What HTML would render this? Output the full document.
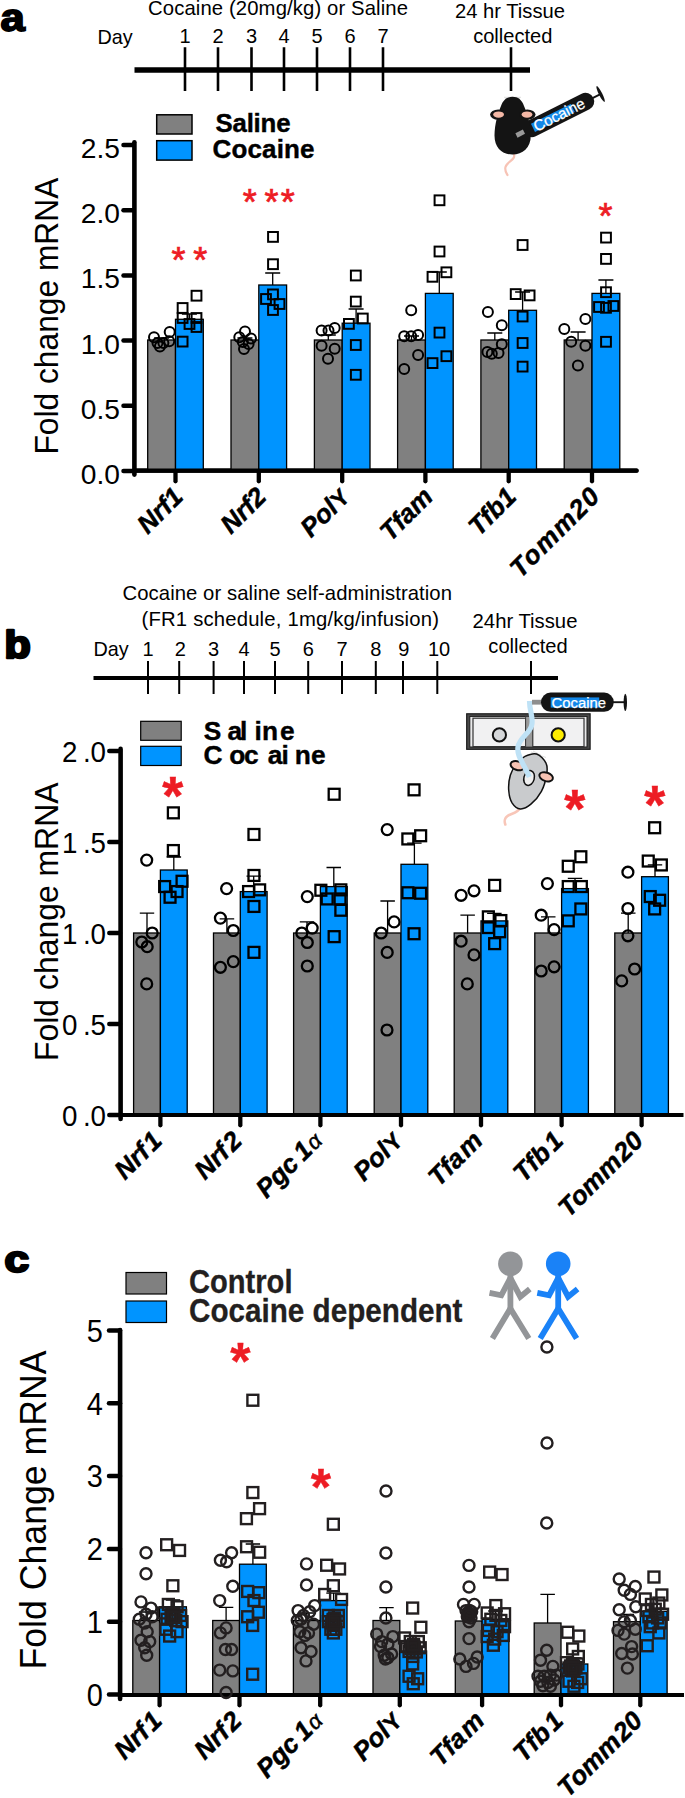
<!DOCTYPE html>
<html><head><meta charset="utf-8"><title>Figure</title>
<style>
html,body{margin:0;padding:0;background:#fff;}
svg{display:block;}
text{font-family:"Liberation Sans",sans-serif;}
</style></head><body>
<svg width="685" height="1798" viewBox="0 0 685 1798">
<rect width="685" height="1798" fill="#fff"/>
<g id="panel-a">
<text transform="translate(0.6,31) scale(1.12,1)" font-size="39" font-weight="bold" stroke="#000" stroke-width="1.8">a</text>
<text x="148" y="14.8" font-size="20.3" text-anchor="start" font-weight="normal" font-style="normal" fill="#000" textLength="260" lengthAdjust="spacing" >Cocaine (20mg/kg) or Saline</text>
<text x="97.5" y="43.8" font-size="19.8" text-anchor="start" font-weight="normal" font-style="normal" fill="#000" >Day</text>
<text x="185" y="43.3" font-size="20" text-anchor="middle" font-weight="normal" font-style="normal" fill="#000" >1</text>
<text x="218" y="43.3" font-size="20" text-anchor="middle" font-weight="normal" font-style="normal" fill="#000" >2</text>
<text x="251.5" y="43.3" font-size="20" text-anchor="middle" font-weight="normal" font-style="normal" fill="#000" >3</text>
<text x="284" y="43.3" font-size="20" text-anchor="middle" font-weight="normal" font-style="normal" fill="#000" >4</text>
<text x="317" y="43.3" font-size="20" text-anchor="middle" font-weight="normal" font-style="normal" fill="#000" >5</text>
<text x="350" y="43.3" font-size="20" text-anchor="middle" font-weight="normal" font-style="normal" fill="#000" >6</text>
<text x="383" y="43.3" font-size="20" text-anchor="middle" font-weight="normal" font-style="normal" fill="#000" >7</text>
<text x="510" y="17.6" font-size="20.2" text-anchor="middle" font-weight="normal" font-style="normal" fill="#000" >24 hr Tissue</text>
<text x="512.8" y="42.6" font-size="20.1" text-anchor="middle" font-weight="normal" font-style="normal" fill="#000" >collected</text>
<path d="M134.5 70H530" stroke="#000" stroke-width="5.3"/>
<path d="M185 47.2V91M218 47.2V91M251.5 47.2V91M284 47.2V91M317 47.2V91M350 47.2V91M383 47.2V91M511 47.2V91" stroke="#000" stroke-width="2.6"/>
<g id="mouse-a">
<path d="M504 97.3L521 97.3M505 99L520 98.2" stroke="#cfcfcf" stroke-width="0.7" fill="none"/>
<path d="M513.5 153C517 160 507 161 505.5 167C504.5 171 506.5 173 507.5 175" stroke="#f7c3b5" stroke-width="2.2" fill="none" stroke-linecap="round"/>
<g transform="translate(520.2,133.6) rotate(-26.6)">
<rect x="4" y="-8.1" width="77.5" height="17.4" rx="8.7" fill="#141414"/>
<path d="M80 0.6H89.5" stroke="#141414" stroke-width="1.9"/>
<ellipse cx="89.6" cy="0.6" rx="1.7" ry="8.8" fill="#141414"/>
<rect x="14" y="-3.9" width="44.5" height="9" fill="#1287e8"/>
<text x="15.5" y="5.9" font-size="15.4" fill="#fff" stroke="#fff" stroke-width="0.25" textLength="55.5" lengthAdjust="spacingAndGlyphs">Cocaine</text>
</g>
<path d="M512.5 96.8C518 96.8 522 100 524 106C527 113 530.8 124 530.8 135.5C530.8 148 522.5 154.6 512.5 154.6C502.5 154.6 494.5 148 494.5 135.5C494.5 124 498 113 501 106C503 100 507 96.8 512.5 96.8Z" fill="#141414"/>
<ellipse cx="498.3" cy="114.6" rx="8.2" ry="5.2" fill="#141414"/>
<ellipse cx="527.3" cy="114.6" rx="8.2" ry="5.2" fill="#141414"/>
<ellipse cx="498.6" cy="114.6" rx="5.4" ry="3.2" fill="#f4b8a6"/>
<ellipse cx="527" cy="114.6" rx="5.4" ry="3.2" fill="#f4b8a6"/>
<rect x="-4.2" y="-2.4" width="8.4" height="4.8" fill="#9a9a9a" transform="translate(520.2,133.6) rotate(-26.6)"/>
</g>
<rect x="156.7" y="114.8" width="35.3" height="19.2" fill="#808080" stroke="#000" stroke-width="1.5"/>
<rect x="156.7" y="140.7" width="35.3" height="19.4" fill="#0094ff" stroke="#000" stroke-width="1.5"/>
<text x="215.5" y="132.3" font-size="25.8" text-anchor="start" font-weight="bold" font-style="normal" fill="#000" textLength="75" lengthAdjust="spacing" stroke="#000" stroke-width="0.4">Saline</text>
<text x="212.5" y="158.3" font-size="26" text-anchor="start" font-weight="bold" font-style="normal" fill="#000" textLength="102" lengthAdjust="spacing" stroke="#000" stroke-width="0.4">Cocaine</text>
<path d="M134.4 142.2V474.6" stroke="#000" stroke-width="4.6" stroke-linecap="round"/>
<path d="M134.4 470.7H636.6" stroke="#000" stroke-width="4.2" stroke-linecap="round"/>
<path d="M123.5 145.1H133" stroke="#000" stroke-width="4.5" stroke-linecap="round"/>
<text x="120" y="158.14999999999998" font-size="28.2" text-anchor="end" font-weight="normal" font-style="normal" fill="#000" >2.5</text>
<path d="M123.5 210.3H133" stroke="#000" stroke-width="4.5" stroke-linecap="round"/>
<text x="120" y="223.29999999999995" font-size="28.2" text-anchor="end" font-weight="normal" font-style="normal" fill="#000" >2.0</text>
<path d="M123.5 275.4H133" stroke="#000" stroke-width="4.5" stroke-linecap="round"/>
<text x="120" y="288.44999999999993" font-size="28.2" text-anchor="end" font-weight="normal" font-style="normal" fill="#000" >1.5</text>
<path d="M123.5 340.6H133" stroke="#000" stroke-width="4.5" stroke-linecap="round"/>
<text x="120" y="353.59999999999997" font-size="28.2" text-anchor="end" font-weight="normal" font-style="normal" fill="#000" >1.0</text>
<path d="M123.5 405.8H133" stroke="#000" stroke-width="4.5" stroke-linecap="round"/>
<text x="120" y="418.75" font-size="28.2" text-anchor="end" font-weight="normal" font-style="normal" fill="#000" >0.5</text>
<path d="M123.5 470.9H133" stroke="#000" stroke-width="4.5" stroke-linecap="round"/>
<text x="120" y="483.9" font-size="28.2" text-anchor="end" font-weight="normal" font-style="normal" fill="#000" >0.0</text>
<text transform="translate(58,454.6) rotate(-90)" font-size="33" textLength="277" lengthAdjust="spacingAndGlyphs">Fold change mRNA</text>
<path d="M161.6 340.0V338.0M154.1 338.0H169.1" stroke="#000" stroke-width="1.3" fill="none"/>
<path d="M189.4 319.3V314.0M181.9 314.0H196.9" stroke="#000" stroke-width="1.3" fill="none"/>
<rect x="147.7" y="340.0" width="27.8" height="131.0" fill="#808080" stroke="#000" stroke-width="1.3"/>
<rect x="175.5" y="319.3" width="27.8" height="151.7" fill="#0094ff" stroke="#000" stroke-width="1.3"/>
<path d="M175.5 471V481.3" stroke="#000" stroke-width="4.3" stroke-linecap="round"/>
<path d="M244.9 340.0V338.0M237.4 338.0H252.4" stroke="#000" stroke-width="1.3" fill="none"/>
<path d="M272.7 285.0V273.0M265.2 273.0H280.2" stroke="#000" stroke-width="1.3" fill="none"/>
<rect x="231.0" y="340.0" width="27.8" height="131.0" fill="#808080" stroke="#000" stroke-width="1.3"/>
<rect x="258.8" y="285.0" width="27.8" height="186.0" fill="#0094ff" stroke="#000" stroke-width="1.3"/>
<path d="M258.8 471V481.3" stroke="#000" stroke-width="4.3" stroke-linecap="round"/>
<path d="M328.3 340.0V335.0M320.8 335.0H335.8" stroke="#000" stroke-width="1.3" fill="none"/>
<path d="M356.1 323.2V309.0M348.6 309.0H363.6" stroke="#000" stroke-width="1.3" fill="none"/>
<rect x="314.4" y="340.0" width="27.8" height="131.0" fill="#808080" stroke="#000" stroke-width="1.3"/>
<rect x="342.2" y="323.2" width="27.8" height="147.8" fill="#0094ff" stroke="#000" stroke-width="1.3"/>
<path d="M342.2 471V481.3" stroke="#000" stroke-width="4.3" stroke-linecap="round"/>
<path d="M411.5 340.0V336.0M404.0 336.0H419.0" stroke="#000" stroke-width="1.3" fill="none"/>
<path d="M439.3 293.4V272.0M431.8 272.0H446.8" stroke="#000" stroke-width="1.3" fill="none"/>
<rect x="397.6" y="340.0" width="27.8" height="131.0" fill="#808080" stroke="#000" stroke-width="1.3"/>
<rect x="425.4" y="293.4" width="27.8" height="177.6" fill="#0094ff" stroke="#000" stroke-width="1.3"/>
<path d="M425.4 471V481.3" stroke="#000" stroke-width="4.3" stroke-linecap="round"/>
<path d="M494.8 340.0V333.0M487.3 333.0H502.3" stroke="#000" stroke-width="1.3" fill="none"/>
<path d="M522.6 310.3V292.0M515.1 292.0H530.1" stroke="#000" stroke-width="1.3" fill="none"/>
<rect x="480.9" y="340.0" width="27.8" height="131.0" fill="#808080" stroke="#000" stroke-width="1.3"/>
<rect x="508.7" y="310.3" width="27.8" height="160.7" fill="#0094ff" stroke="#000" stroke-width="1.3"/>
<path d="M508.7 471V481.3" stroke="#000" stroke-width="4.3" stroke-linecap="round"/>
<path d="M578.1 340.0V332.0M570.6 332.0H585.6" stroke="#000" stroke-width="1.3" fill="none"/>
<path d="M605.9 293.4V280.0M598.4 280.0H613.4" stroke="#000" stroke-width="1.3" fill="none"/>
<rect x="564.2" y="340.0" width="27.8" height="131.0" fill="#808080" stroke="#000" stroke-width="1.3"/>
<rect x="592.0" y="293.4" width="27.8" height="177.6" fill="#0094ff" stroke="#000" stroke-width="1.3"/>
<path d="M592 471V481.3" stroke="#000" stroke-width="4.3" stroke-linecap="round"/>
<path d="M134.4 470.7H636.6" stroke="#000" stroke-width="4.2" stroke-linecap="round"/>
<text transform="translate(184.5,498.3) rotate(-45)" font-size="26" font-weight="bold" font-style="italic" text-anchor="end" stroke="#000" stroke-width="0.5">Nrf1</text>
<text transform="translate(267.8,498.3) rotate(-45)" font-size="26" font-weight="bold" font-style="italic" text-anchor="end" stroke="#000" stroke-width="0.5">Nrf2</text>
<text transform="translate(351.2,498.3) rotate(-45)" font-size="26" font-weight="bold" font-style="italic" text-anchor="end" stroke="#000" stroke-width="0.5">Pol<tspan font-style="normal" font-size="23" dx="1">Y</tspan></text>
<text transform="translate(434.4,498.3) rotate(-45)" font-size="26" font-weight="bold" font-style="italic" text-anchor="end" stroke="#000" stroke-width="0.5">Tfam</text>
<text transform="translate(517.7,498.3) rotate(-45)" font-size="26" font-weight="bold" font-style="italic" text-anchor="end" stroke="#000" stroke-width="0.5">Tfb1</text>
<text transform="translate(602.1,497.2) rotate(-45)" font-size="26" font-weight="bold" font-style="italic" text-anchor="end" stroke="#000" stroke-width="0.5"><tspan letter-spacing="1.6">Tomm20</tspan></text>
<circle cx="154.0" cy="337.2" r="5.0" fill="none" stroke="#000" stroke-width="2.0"/>
<circle cx="169.7" cy="331.9" r="5.0" fill="none" stroke="#000" stroke-width="2.0"/>
<circle cx="157.5" cy="343.0" r="5.0" fill="none" stroke="#000" stroke-width="2.0"/>
<circle cx="163.4" cy="343.0" r="5.0" fill="none" stroke="#000" stroke-width="2.0"/>
<circle cx="169.2" cy="341.2" r="5.0" fill="none" stroke="#000" stroke-width="2.0"/>
<circle cx="159.9" cy="346.6" r="5.0" fill="none" stroke="#000" stroke-width="2.0"/>
<circle cx="245.0" cy="331.4" r="5.0" fill="none" stroke="#000" stroke-width="2.0"/>
<circle cx="239.3" cy="337.2" r="5.0" fill="none" stroke="#000" stroke-width="2.0"/>
<circle cx="251.0" cy="338.4" r="5.0" fill="none" stroke="#000" stroke-width="2.0"/>
<circle cx="242.8" cy="342.0" r="5.0" fill="none" stroke="#000" stroke-width="2.0"/>
<circle cx="248.6" cy="344.0" r="5.0" fill="none" stroke="#000" stroke-width="2.0"/>
<circle cx="244.0" cy="349.0" r="5.0" fill="none" stroke="#000" stroke-width="2.0"/>
<circle cx="321.6" cy="330.6" r="5.0" fill="none" stroke="#000" stroke-width="2.0"/>
<circle cx="328.5" cy="330.6" r="5.0" fill="none" stroke="#000" stroke-width="2.0"/>
<circle cx="334.7" cy="328.1" r="5.0" fill="none" stroke="#000" stroke-width="2.0"/>
<circle cx="321.6" cy="345.8" r="5.0" fill="none" stroke="#000" stroke-width="2.0"/>
<circle cx="334.7" cy="348.7" r="5.0" fill="none" stroke="#000" stroke-width="2.0"/>
<circle cx="328.0" cy="358.7" r="5.0" fill="none" stroke="#000" stroke-width="2.0"/>
<circle cx="411.2" cy="310.3" r="5.0" fill="none" stroke="#000" stroke-width="2.0"/>
<circle cx="404.2" cy="336.3" r="5.0" fill="none" stroke="#000" stroke-width="2.0"/>
<circle cx="411.2" cy="336.3" r="5.0" fill="none" stroke="#000" stroke-width="2.0"/>
<circle cx="418.1" cy="335.1" r="5.0" fill="none" stroke="#000" stroke-width="2.0"/>
<circle cx="418.1" cy="354.9" r="5.0" fill="none" stroke="#000" stroke-width="2.0"/>
<circle cx="404.2" cy="369.1" r="5.0" fill="none" stroke="#000" stroke-width="2.0"/>
<circle cx="487.9" cy="312.0" r="5.0" fill="none" stroke="#000" stroke-width="2.0"/>
<circle cx="501.8" cy="325.2" r="5.0" fill="none" stroke="#000" stroke-width="2.0"/>
<circle cx="501.8" cy="344.3" r="5.0" fill="none" stroke="#000" stroke-width="2.0"/>
<circle cx="487.4" cy="352.0" r="5.0" fill="none" stroke="#000" stroke-width="2.0"/>
<circle cx="491.8" cy="353.7" r="5.0" fill="none" stroke="#000" stroke-width="2.0"/>
<circle cx="498.5" cy="353.0" r="5.0" fill="none" stroke="#000" stroke-width="2.0"/>
<circle cx="585.4" cy="319.0" r="5.0" fill="none" stroke="#000" stroke-width="2.0"/>
<circle cx="564.3" cy="328.9" r="5.0" fill="none" stroke="#000" stroke-width="2.0"/>
<circle cx="571.2" cy="341.8" r="5.0" fill="none" stroke="#000" stroke-width="2.0"/>
<circle cx="585.4" cy="345.8" r="5.0" fill="none" stroke="#000" stroke-width="2.0"/>
<circle cx="577.9" cy="365.6" r="5.0" fill="none" stroke="#000" stroke-width="2.0"/>
<rect x="191.6" y="290.8" width="9.8" height="9.8" fill="none" stroke="#000" stroke-width="2.0"/>
<rect x="177.7" y="303.1" width="9.8" height="9.8" fill="none" stroke="#000" stroke-width="2.0"/>
<rect x="177.7" y="313.1" width="9.8" height="9.8" fill="none" stroke="#000" stroke-width="2.0"/>
<rect x="191.6" y="313.1" width="9.8" height="9.8" fill="none" stroke="#000" stroke-width="2.0"/>
<rect x="184.6" y="319.1" width="9.8" height="9.8" fill="none" stroke="#000" stroke-width="2.0"/>
<rect x="191.6" y="322.1" width="9.8" height="9.8" fill="none" stroke="#000" stroke-width="2.0"/>
<rect x="177.7" y="336.7" width="9.8" height="9.8" fill="none" stroke="#000" stroke-width="2.0"/>
<rect x="268.1" y="232.0" width="9.8" height="9.8" fill="none" stroke="#000" stroke-width="2.0"/>
<rect x="268.1" y="259.3" width="9.8" height="9.8" fill="none" stroke="#000" stroke-width="2.0"/>
<rect x="268.1" y="289.5" width="9.8" height="9.8" fill="none" stroke="#000" stroke-width="2.0"/>
<rect x="261.1" y="294.1" width="9.8" height="9.8" fill="none" stroke="#000" stroke-width="2.0"/>
<rect x="274.6" y="299.1" width="9.8" height="9.8" fill="none" stroke="#000" stroke-width="2.0"/>
<rect x="268.1" y="305.1" width="9.8" height="9.8" fill="none" stroke="#000" stroke-width="2.0"/>
<rect x="350.9" y="270.6" width="9.8" height="9.8" fill="none" stroke="#000" stroke-width="2.0"/>
<rect x="350.9" y="296.7" width="9.8" height="9.8" fill="none" stroke="#000" stroke-width="2.0"/>
<rect x="357.9" y="313.6" width="9.8" height="9.8" fill="none" stroke="#000" stroke-width="2.0"/>
<rect x="344.0" y="319.0" width="9.8" height="9.8" fill="none" stroke="#000" stroke-width="2.0"/>
<rect x="350.9" y="340.1" width="9.8" height="9.8" fill="none" stroke="#000" stroke-width="2.0"/>
<rect x="350.9" y="369.9" width="9.8" height="9.8" fill="none" stroke="#000" stroke-width="2.0"/>
<rect x="434.6" y="195.4" width="9.8" height="9.8" fill="none" stroke="#000" stroke-width="2.0"/>
<rect x="434.6" y="246.6" width="9.8" height="9.8" fill="none" stroke="#000" stroke-width="2.0"/>
<rect x="441.5" y="267.4" width="9.8" height="9.8" fill="none" stroke="#000" stroke-width="2.0"/>
<rect x="427.6" y="271.9" width="9.8" height="9.8" fill="none" stroke="#000" stroke-width="2.0"/>
<rect x="434.6" y="327.7" width="9.8" height="9.8" fill="none" stroke="#000" stroke-width="2.0"/>
<rect x="441.5" y="351.3" width="9.8" height="9.8" fill="none" stroke="#000" stroke-width="2.0"/>
<rect x="427.6" y="358.2" width="9.8" height="9.8" fill="none" stroke="#000" stroke-width="2.0"/>
<rect x="517.7" y="240.1" width="9.8" height="9.8" fill="none" stroke="#000" stroke-width="2.0"/>
<rect x="510.8" y="289.2" width="9.8" height="9.8" fill="none" stroke="#000" stroke-width="2.0"/>
<rect x="524.7" y="290.5" width="9.8" height="9.8" fill="none" stroke="#000" stroke-width="2.0"/>
<rect x="517.7" y="311.6" width="9.8" height="9.8" fill="none" stroke="#000" stroke-width="2.0"/>
<rect x="517.7" y="338.1" width="9.8" height="9.8" fill="none" stroke="#000" stroke-width="2.0"/>
<rect x="517.7" y="361.7" width="9.8" height="9.8" fill="none" stroke="#000" stroke-width="2.0"/>
<rect x="601.1" y="232.7" width="9.8" height="9.8" fill="none" stroke="#000" stroke-width="2.0"/>
<rect x="601.1" y="254.0" width="9.8" height="9.8" fill="none" stroke="#000" stroke-width="2.0"/>
<rect x="601.1" y="287.3" width="9.8" height="9.8" fill="none" stroke="#000" stroke-width="2.0"/>
<rect x="594.1" y="302.1" width="9.8" height="9.8" fill="none" stroke="#000" stroke-width="2.0"/>
<rect x="601.1" y="302.9" width="9.8" height="9.8" fill="none" stroke="#000" stroke-width="2.0"/>
<rect x="608.5" y="301.1" width="9.8" height="9.8" fill="none" stroke="#000" stroke-width="2.0"/>
<rect x="601.1" y="336.9" width="9.8" height="9.8" fill="none" stroke="#000" stroke-width="2.0"/>
<text x="178.4" y="272.5" font-size="36" text-anchor="middle" fill="#ed1c24" stroke="#ed1c24" stroke-width="0.7">*</text>
<text x="200.2" y="272.5" font-size="36" text-anchor="middle" fill="#ed1c24" stroke="#ed1c24" stroke-width="0.7">*</text>
<text x="249.7" y="215.0" font-size="36" text-anchor="middle" fill="#ed1c24" stroke="#ed1c24" stroke-width="0.7">*</text>
<text x="271.6" y="215.0" font-size="36" text-anchor="middle" fill="#ed1c24" stroke="#ed1c24" stroke-width="0.7">*</text>
<text x="287.7" y="215.0" font-size="36" text-anchor="middle" fill="#ed1c24" stroke="#ed1c24" stroke-width="0.7">*</text>
<text x="605.5" y="228.5" font-size="36" text-anchor="middle" fill="#ed1c24" stroke="#ed1c24" stroke-width="0.7">*</text>
</g>
<g id="panel-b">
<text transform="translate(4.4,657.8) scale(1.12,1)" font-size="38.3" font-weight="bold" stroke="#000" stroke-width="2.6" stroke-linejoin="round">b</text>
<text x="122.5" y="600" font-size="20.3" text-anchor="start" font-weight="normal" font-style="normal" fill="#000" textLength="329.5" lengthAdjust="spacing" >Cocaine or saline self-administration</text>
<text x="141.5" y="625.5" font-size="20.3" text-anchor="start" font-weight="normal" font-style="normal" fill="#000" textLength="297.5" lengthAdjust="spacing" >(FR1 schedule, 1mg/kg/infusion)</text>
<text x="93.5" y="656" font-size="19.8" text-anchor="start" font-weight="normal" font-style="normal" fill="#000" >Day</text>
<text x="148" y="656" font-size="20" text-anchor="middle" font-weight="normal" font-style="normal" fill="#000" >1</text>
<text x="180.39999999999998" y="656" font-size="20" text-anchor="middle" font-weight="normal" font-style="normal" fill="#000" >2</text>
<text x="213.6" y="656" font-size="20" text-anchor="middle" font-weight="normal" font-style="normal" fill="#000" >3</text>
<text x="244" y="656" font-size="20" text-anchor="middle" font-weight="normal" font-style="normal" fill="#000" >4</text>
<text x="275" y="656" font-size="20" text-anchor="middle" font-weight="normal" font-style="normal" fill="#000" >5</text>
<text x="308.2" y="656" font-size="20" text-anchor="middle" font-weight="normal" font-style="normal" fill="#000" >6</text>
<text x="342" y="656" font-size="20" text-anchor="middle" font-weight="normal" font-style="normal" fill="#000" >7</text>
<text x="375.8" y="656" font-size="20" text-anchor="middle" font-weight="normal" font-style="normal" fill="#000" >8</text>
<text x="403.7" y="656" font-size="20" text-anchor="middle" font-weight="normal" font-style="normal" fill="#000" >9</text>
<text x="439.1" y="656" font-size="20" text-anchor="middle" font-weight="normal" font-style="normal" fill="#000" >10</text>
<text x="525" y="627.5" font-size="20.3" text-anchor="middle" font-weight="normal" font-style="normal" fill="#000" >24hr Tissue</text>
<text x="528" y="652.5" font-size="20.1" text-anchor="middle" font-weight="normal" font-style="normal" fill="#000" >collected</text>
<path d="M93.5 678H558" stroke="#000" stroke-width="4.2"/>
<path d="M148 661V694M179.2 661V694M213.6 661V694M244 661V694M275 661V694M308.2 661V694M342 661V694M375.8 661V694M403 661V694M437.3 661V694M531 661V694" stroke="#000" stroke-width="2"/>
<g id="illus-b">
<rect x="466.7" y="713.8" width="123.4" height="35.5" fill="#4a4a4a" stroke="#1a1a1a" stroke-width="1.2"/>
<rect x="469.8" y="716.4" width="117.2" height="30.6" fill="#e9e9ea" stroke="#1a1a1a" stroke-width="1"/>
<rect x="473" y="718.2" width="52.7" height="28.4" fill="#f1f1f2" stroke="#333" stroke-width="1.2"/>
<rect x="532.7" y="718.2" width="51.3" height="28.4" fill="#f1f1f2" stroke="#333" stroke-width="1.2"/>
<rect x="525.7" y="716.4" width="7" height="30.6" fill="#9a9a9a" stroke="#333" stroke-width="0.8"/>
<circle cx="499.4" cy="734.9" r="6.6" fill="#d5d7d9" stroke="#111" stroke-width="2"/>
<circle cx="558.2" cy="734.9" r="6.6" fill="#fdec00" stroke="#111" stroke-width="2"/>
<path d="M520.5 807C518 813.5 511 813.5 507.5 816C503.5 819 504.5 822 505.3 824.5" stroke="#f8c6b8" stroke-width="2.6" fill="none" stroke-linecap="round"/>
<path d="M531 752L546 757.5M533 751L541 755" stroke="#d0d0d0" stroke-width="0.7" fill="none"/>
<path d="M536.7 754.0C540.2 755.2 544.5 759.9 546.1 763.4C547.8 766.9 547.4 770.3 546.6 775.0C545.8 779.7 544.0 786.5 541.4 791.4C538.8 796.3 534.4 801.3 530.9 804.2C527.4 807.1 523.5 809.1 520.4 808.9C517.3 808.7 514.2 806.2 512.2 803.1C510.3 800.0 509.0 794.9 508.7 790.2C508.4 785.5 509.0 779.5 510.4 775.0C511.8 770.5 514.5 766.5 516.9 763.4C519.3 760.3 521.7 758.0 525.0 756.4C528.3 754.8 533.2 752.8 536.7 754.0Z" fill="#c9cbcd" stroke="#111" stroke-width="1.5"/>
<ellipse cx="517.4" cy="765.7" rx="7" ry="4.3" transform="rotate(18 517.4 765.7)" fill="#f7c3b3" stroke="#111" stroke-width="2"/>
<ellipse cx="546.1" cy="776.8" rx="7" ry="4.3" transform="rotate(18 546.1 776.8)" fill="#f7c3b3" stroke="#111" stroke-width="2"/>
<ellipse cx="529.1" cy="778" rx="5.2" ry="7.5" transform="rotate(15 529.1 778)" fill="#efefef" stroke="#111" stroke-width="1.5"/>
<path d="M529.5 701C529.5 712 534 718 531.5 726C529 734 519.5 738 518 747C516.5 756 524 764 529.3 777" stroke="#bfe2f6" stroke-width="5.2" fill="none"/>
<rect x="532" y="699.8" width="10" height="4.8" fill="#8e8e8e"/>
<rect x="541" y="692.6" width="72.8" height="19.2" rx="9.6" fill="#141414"/>
<path d="M613 702.2H625" stroke="#141414" stroke-width="1.9"/>
<ellipse cx="625.3" cy="702.4" rx="1.7" ry="8.7" fill="#141414"/>
<rect x="550.7" y="697.4" width="48.5" height="10.2" fill="#1287e8"/>
<text x="551.5" y="707.6" font-size="15.4" fill="#fff" stroke="#fff" stroke-width="0.25" textLength="54.5" lengthAdjust="spacingAndGlyphs">Cocaine</text>
</g>
<rect x="140.7" y="721.3" width="40.5" height="19" fill="#808080" stroke="#000" stroke-width="1.2"/>
<rect x="140.7" y="746.3" width="40.5" height="19.2" fill="#0094ff" stroke="#000" stroke-width="1.2"/>
<text transform="scale(1.0,1)" x="203.70 227.50 239.90 254.40 261.90 279.95" y="740.3" font-size="26.3" font-weight="bold" stroke="#000" stroke-width="0.4">Saline</text>
<text transform="scale(1.0,1)" x="203.50 229.35 243.90 267.85 281.50 294.75 311.10" y="763.7" font-size="26.3" font-weight="bold" stroke="#000" stroke-width="0.4">Cocaine</text>
<path d="M120.6 748.9V1119" stroke="#000" stroke-width="4.6" stroke-linecap="round"/>
<path d="M109.3 751.1H120" stroke="#000" stroke-width="4.5" stroke-linecap="round"/>
<text transform="scale(0.94,1)" x="65.96 88.40 96.17" y="761.9" font-size="29.5">2.0</text>
<path d="M109.3 842.1H120" stroke="#000" stroke-width="4.5" stroke-linecap="round"/>
<text transform="scale(0.94,1)" x="65.96 88.40 96.17" y="852.9" font-size="29.5">1.5</text>
<path d="M109.3 933.0H120" stroke="#000" stroke-width="4.5" stroke-linecap="round"/>
<text transform="scale(0.94,1)" x="65.96 88.40 96.17" y="943.8" font-size="29.5">1.0</text>
<path d="M109.3 1024.0H120" stroke="#000" stroke-width="4.5" stroke-linecap="round"/>
<text transform="scale(0.94,1)" x="65.96 88.40 96.17" y="1034.8" font-size="29.5">0.5</text>
<path d="M109.3 1114.9H120" stroke="#000" stroke-width="4.5" stroke-linecap="round"/>
<text transform="scale(0.94,1)" x="65.96 88.40 96.17" y="1125.7" font-size="29.5">0.0</text>
<text transform="translate(58,1061) rotate(-90)" font-size="33" textLength="278.5" lengthAdjust="spacingAndGlyphs">Fold change mRNA</text>
<path d="M147.0 933.0V913.2M139.8 913.2H154.2" stroke="#000" stroke-width="1.3" fill="none"/>
<path d="M173.8 870.0V857.0M166.6 857.0H181.1" stroke="#000" stroke-width="1.3" fill="none"/>
<rect x="133.6" y="933.0" width="26.8" height="182.0" fill="#808080" stroke="#000" stroke-width="1.3"/>
<rect x="160.4" y="870.0" width="26.8" height="245.0" fill="#0094ff" stroke="#000" stroke-width="1.3"/>
<path d="M160.4 1115V1125.3" stroke="#000" stroke-width="4.3" stroke-linecap="round"/>
<path d="M226.9 933.0V918.9M219.7 918.9H234.2" stroke="#000" stroke-width="1.3" fill="none"/>
<path d="M253.7 891.6V876.2M246.5 876.2H261.0" stroke="#000" stroke-width="1.3" fill="none"/>
<rect x="213.5" y="933.0" width="26.8" height="182.0" fill="#808080" stroke="#000" stroke-width="1.3"/>
<rect x="240.3" y="891.6" width="26.8" height="223.4" fill="#0094ff" stroke="#000" stroke-width="1.3"/>
<path d="M240.3 1115V1125.3" stroke="#000" stroke-width="4.3" stroke-linecap="round"/>
<path d="M307.0 933.0V921.9M299.8 921.9H314.2" stroke="#000" stroke-width="1.3" fill="none"/>
<path d="M333.8 886.6V867.5M326.5 867.5H341.0" stroke="#000" stroke-width="1.3" fill="none"/>
<rect x="293.6" y="933.0" width="26.8" height="182.0" fill="#808080" stroke="#000" stroke-width="1.3"/>
<rect x="320.4" y="886.6" width="26.8" height="228.4" fill="#0094ff" stroke="#000" stroke-width="1.3"/>
<path d="M320.4 1115V1125.3" stroke="#000" stroke-width="4.3" stroke-linecap="round"/>
<path d="M387.6 933.0V901.0M380.4 901.0H394.9" stroke="#000" stroke-width="1.3" fill="none"/>
<path d="M414.4 864.3V843.2M407.1 843.2H421.6" stroke="#000" stroke-width="1.3" fill="none"/>
<rect x="374.2" y="933.0" width="26.8" height="182.0" fill="#808080" stroke="#000" stroke-width="1.3"/>
<rect x="401.0" y="864.3" width="26.8" height="250.7" fill="#0094ff" stroke="#000" stroke-width="1.3"/>
<path d="M401 1115V1125.3" stroke="#000" stroke-width="4.3" stroke-linecap="round"/>
<path d="M467.6 933.0V915.2M460.4 915.2H474.9" stroke="#000" stroke-width="1.3" fill="none"/>
<path d="M494.4 920.9V913.4M487.1 913.4H501.6" stroke="#000" stroke-width="1.3" fill="none"/>
<rect x="454.2" y="933.0" width="26.8" height="182.0" fill="#808080" stroke="#000" stroke-width="1.3"/>
<rect x="481.0" y="920.9" width="26.8" height="194.1" fill="#0094ff" stroke="#000" stroke-width="1.3"/>
<path d="M481 1115V1125.3" stroke="#000" stroke-width="4.3" stroke-linecap="round"/>
<path d="M548.2 933.0V916.9M541.0 916.9H555.5" stroke="#000" stroke-width="1.3" fill="none"/>
<path d="M575.0 888.6V878.4M567.8 878.4H582.2" stroke="#000" stroke-width="1.3" fill="none"/>
<rect x="534.8" y="933.0" width="26.8" height="182.0" fill="#808080" stroke="#000" stroke-width="1.3"/>
<rect x="561.6" y="888.6" width="26.8" height="226.4" fill="#0094ff" stroke="#000" stroke-width="1.3"/>
<path d="M561.6 1115V1125.3" stroke="#000" stroke-width="4.3" stroke-linecap="round"/>
<path d="M628.2 933.0V913.2M621.0 913.2H635.5" stroke="#000" stroke-width="1.3" fill="none"/>
<path d="M655.0 876.7V864.8M647.8 864.8H662.2" stroke="#000" stroke-width="1.3" fill="none"/>
<rect x="614.8" y="933.0" width="26.8" height="182.0" fill="#808080" stroke="#000" stroke-width="1.3"/>
<rect x="641.6" y="876.7" width="26.8" height="238.3" fill="#0094ff" stroke="#000" stroke-width="1.3"/>
<path d="M641.6 1115V1125.3" stroke="#000" stroke-width="4.3" stroke-linecap="round"/>
<path d="M120.6 1115H683.5" stroke="#000" stroke-width="4.2"/>
<text transform="translate(163.6,1142.2) rotate(-45)" font-size="26" font-weight="bold" font-style="italic" text-anchor="end" stroke="#000" stroke-width="0.5">Nrf<tspan dx="2.5">1</tspan></text>
<text transform="translate(243.5,1142.2) rotate(-45)" font-size="26" font-weight="bold" font-style="italic" text-anchor="end" stroke="#000" stroke-width="0.5">Nrf<tspan dx="2.5">2</tspan></text>
<text transform="translate(323.6,1142.2) rotate(-45)" font-size="26" font-weight="bold" font-style="italic" text-anchor="end" stroke="#000" stroke-width="0.5">Pgc<tspan dx="5">1</tspan><tspan dx="1" font-weight="normal" font-size="22">α</tspan></text>
<text transform="translate(404.2,1142.2) rotate(-45)" font-size="26" font-weight="bold" font-style="italic" text-anchor="end" stroke="#000" stroke-width="0.5">Pol<tspan font-style="normal" font-size="23" dx="1">Y</tspan></text>
<text transform="translate(484.2,1142.2) rotate(-45)" font-size="26" font-weight="bold" font-style="italic" text-anchor="end" stroke="#000" stroke-width="0.5">Tfa<tspan dx="2">m</tspan></text>
<text transform="translate(564.8,1142.2) rotate(-45)" font-size="26" font-weight="bold" font-style="italic" text-anchor="end" stroke="#000" stroke-width="0.5">Tfb<tspan dx="3">1</tspan></text>
<text transform="translate(644.8,1142.2) rotate(-45)" font-size="26" font-weight="bold" font-style="italic" text-anchor="end" stroke="#000" stroke-width="0.5">Tomm<tspan dx="1.5">20</tspan></text>
<circle cx="146.7" cy="860.1" r="5.45" fill="none" stroke="#000" stroke-width="2.3"/>
<circle cx="152.2" cy="933.0" r="5.45" fill="none" stroke="#000" stroke-width="2.3"/>
<circle cx="141.8" cy="942.0" r="5.45" fill="none" stroke="#000" stroke-width="2.3"/>
<circle cx="147.2" cy="946.7" r="5.45" fill="none" stroke="#000" stroke-width="2.3"/>
<circle cx="146.7" cy="983.9" r="5.45" fill="none" stroke="#000" stroke-width="2.3"/>
<circle cx="226.6" cy="888.6" r="5.45" fill="none" stroke="#000" stroke-width="2.3"/>
<circle cx="220.4" cy="918.1" r="5.45" fill="none" stroke="#000" stroke-width="2.3"/>
<circle cx="233.3" cy="930.5" r="5.45" fill="none" stroke="#000" stroke-width="2.3"/>
<circle cx="233.3" cy="961.6" r="5.45" fill="none" stroke="#000" stroke-width="2.3"/>
<circle cx="220.4" cy="967.3" r="5.45" fill="none" stroke="#000" stroke-width="2.3"/>
<circle cx="307.3" cy="896.6" r="5.45" fill="none" stroke="#000" stroke-width="2.3"/>
<circle cx="312.2" cy="928.1" r="5.45" fill="none" stroke="#000" stroke-width="2.3"/>
<circle cx="301.8" cy="933.0" r="5.45" fill="none" stroke="#000" stroke-width="2.3"/>
<circle cx="307.3" cy="942.5" r="5.45" fill="none" stroke="#000" stroke-width="2.3"/>
<circle cx="307.3" cy="966.0" r="5.45" fill="none" stroke="#000" stroke-width="2.3"/>
<circle cx="387.2" cy="829.6" r="5.45" fill="none" stroke="#000" stroke-width="2.3"/>
<circle cx="394.1" cy="921.9" r="5.45" fill="none" stroke="#000" stroke-width="2.3"/>
<circle cx="381.2" cy="933.0" r="5.45" fill="none" stroke="#000" stroke-width="2.3"/>
<circle cx="387.2" cy="952.4" r="5.45" fill="none" stroke="#000" stroke-width="2.3"/>
<circle cx="387.0" cy="1030.0" r="5.45" fill="none" stroke="#000" stroke-width="2.3"/>
<circle cx="461.1" cy="895.3" r="5.45" fill="none" stroke="#000" stroke-width="2.3"/>
<circle cx="474.0" cy="890.8" r="5.45" fill="none" stroke="#000" stroke-width="2.3"/>
<circle cx="461.1" cy="941.2" r="5.45" fill="none" stroke="#000" stroke-width="2.3"/>
<circle cx="474.0" cy="954.9" r="5.45" fill="none" stroke="#000" stroke-width="2.3"/>
<circle cx="467.3" cy="983.9" r="5.45" fill="none" stroke="#000" stroke-width="2.3"/>
<circle cx="547.4" cy="883.6" r="5.45" fill="none" stroke="#000" stroke-width="2.3"/>
<circle cx="541.2" cy="915.2" r="5.45" fill="none" stroke="#000" stroke-width="2.3"/>
<circle cx="554.1" cy="929.6" r="5.45" fill="none" stroke="#000" stroke-width="2.3"/>
<circle cx="554.1" cy="966.8" r="5.45" fill="none" stroke="#000" stroke-width="2.3"/>
<circle cx="541.2" cy="971.0" r="5.45" fill="none" stroke="#000" stroke-width="2.3"/>
<circle cx="627.9" cy="872.2" r="5.45" fill="none" stroke="#000" stroke-width="2.3"/>
<circle cx="627.9" cy="908.5" r="5.45" fill="none" stroke="#000" stroke-width="2.3"/>
<circle cx="627.9" cy="935.8" r="5.45" fill="none" stroke="#000" stroke-width="2.3"/>
<circle cx="634.6" cy="969.0" r="5.45" fill="none" stroke="#000" stroke-width="2.3"/>
<circle cx="621.7" cy="980.9" r="5.45" fill="none" stroke="#000" stroke-width="2.3"/>
<rect x="167.9" y="807.4" width="10.9" height="10.9" fill="none" stroke="#000" stroke-width="2.3"/>
<rect x="167.9" y="845.1" width="10.9" height="10.9" fill="none" stroke="#000" stroke-width="2.3"/>
<rect x="176.6" y="875.8" width="10.9" height="10.9" fill="none" stroke="#000" stroke-width="2.3"/>
<rect x="159.2" y="881.1" width="10.9" height="10.9" fill="none" stroke="#000" stroke-width="2.3"/>
<rect x="171.6" y="886.1" width="10.9" height="10.9" fill="none" stroke="#000" stroke-width="2.3"/>
<rect x="164.6" y="891.8" width="10.9" height="10.9" fill="none" stroke="#000" stroke-width="2.3"/>
<rect x="248.5" y="829.0" width="10.9" height="10.9" fill="none" stroke="#000" stroke-width="2.3"/>
<rect x="248.5" y="870.0" width="10.9" height="10.9" fill="none" stroke="#000" stroke-width="2.3"/>
<rect x="243.1" y="886.1" width="10.9" height="10.9" fill="none" stroke="#000" stroke-width="2.3"/>
<rect x="254.2" y="884.4" width="10.9" height="10.9" fill="none" stroke="#000" stroke-width="2.3"/>
<rect x="248.5" y="901.0" width="10.9" height="10.9" fill="none" stroke="#000" stroke-width="2.3"/>
<rect x="248.5" y="946.9" width="10.9" height="10.9" fill="none" stroke="#000" stroke-width="2.3"/>
<rect x="328.7" y="788.8" width="10.9" height="10.9" fill="none" stroke="#000" stroke-width="2.3"/>
<rect x="315.4" y="884.8" width="10.9" height="10.9" fill="none" stroke="#000" stroke-width="2.3"/>
<rect x="335.4" y="884.4" width="10.9" height="10.9" fill="none" stroke="#000" stroke-width="2.3"/>
<rect x="321.7" y="893.5" width="10.9" height="10.9" fill="none" stroke="#000" stroke-width="2.3"/>
<rect x="334.6" y="893.5" width="10.9" height="10.9" fill="none" stroke="#000" stroke-width="2.3"/>
<rect x="335.4" y="904.8" width="10.9" height="10.9" fill="none" stroke="#000" stroke-width="2.3"/>
<rect x="328.7" y="931.2" width="10.9" height="10.9" fill="none" stroke="#000" stroke-width="2.3"/>
<rect x="408.6" y="784.4" width="10.9" height="10.9" fill="none" stroke="#000" stroke-width="2.3"/>
<rect x="402.4" y="833.5" width="10.9" height="10.9" fill="none" stroke="#000" stroke-width="2.3"/>
<rect x="415.2" y="830.3" width="10.9" height="10.9" fill="none" stroke="#000" stroke-width="2.3"/>
<rect x="402.4" y="887.3" width="10.9" height="10.9" fill="none" stroke="#000" stroke-width="2.3"/>
<rect x="415.2" y="887.8" width="10.9" height="10.9" fill="none" stroke="#000" stroke-width="2.3"/>
<rect x="408.6" y="928.3" width="10.9" height="10.9" fill="none" stroke="#000" stroke-width="2.3"/>
<rect x="489.2" y="879.9" width="10.9" height="10.9" fill="none" stroke="#000" stroke-width="2.3"/>
<rect x="482.9" y="911.4" width="10.9" height="10.9" fill="none" stroke="#000" stroke-width="2.3"/>
<rect x="495.4" y="915.1" width="10.9" height="10.9" fill="none" stroke="#000" stroke-width="2.3"/>
<rect x="482.9" y="922.1" width="10.9" height="10.9" fill="none" stroke="#000" stroke-width="2.3"/>
<rect x="494.2" y="926.3" width="10.9" height="10.9" fill="none" stroke="#000" stroke-width="2.3"/>
<rect x="489.2" y="938.2" width="10.9" height="10.9" fill="none" stroke="#000" stroke-width="2.3"/>
<rect x="575.4" y="851.3" width="10.9" height="10.9" fill="none" stroke="#000" stroke-width="2.3"/>
<rect x="562.8" y="860.8" width="10.9" height="10.9" fill="none" stroke="#000" stroke-width="2.3"/>
<rect x="562.8" y="881.1" width="10.9" height="10.9" fill="none" stroke="#000" stroke-width="2.3"/>
<rect x="575.9" y="881.1" width="10.9" height="10.9" fill="none" stroke="#000" stroke-width="2.3"/>
<rect x="575.4" y="903.5" width="10.9" height="10.9" fill="none" stroke="#000" stroke-width="2.3"/>
<rect x="562.8" y="915.4" width="10.9" height="10.9" fill="none" stroke="#000" stroke-width="2.3"/>
<rect x="649.2" y="822.3" width="10.9" height="10.9" fill="none" stroke="#000" stroke-width="2.3"/>
<rect x="642.8" y="855.6" width="10.9" height="10.9" fill="none" stroke="#000" stroke-width="2.3"/>
<rect x="655.9" y="859.5" width="10.9" height="10.9" fill="none" stroke="#000" stroke-width="2.3"/>
<rect x="644.8" y="891.1" width="10.9" height="10.9" fill="none" stroke="#000" stroke-width="2.3"/>
<rect x="654.2" y="894.8" width="10.9" height="10.9" fill="none" stroke="#000" stroke-width="2.3"/>
<rect x="649.2" y="903.5" width="10.9" height="10.9" fill="none" stroke="#000" stroke-width="2.3"/>
<text x="172.8" y="814.1" font-size="54" font-weight="bold" text-anchor="middle" fill="#ed1c24" stroke="#ed1c24" stroke-width="0.5">*</text>
<text x="574.7" y="826.5" font-size="54" font-weight="bold" text-anchor="middle" fill="#ed1c24" stroke="#ed1c24" stroke-width="0.5">*</text>
<text x="654.7" y="822.8" font-size="54" font-weight="bold" text-anchor="middle" fill="#ed1c24" stroke="#ed1c24" stroke-width="0.5">*</text>
</g>
<g id="panel-c">
<text transform="translate(4.6,1272) scale(1.23,1)" font-size="36" font-weight="bold" stroke="#000" stroke-width="2.4" stroke-linejoin="round">c</text>
<rect x="126" y="1272.5" width="40.5" height="21.5" fill="#808080" stroke="#000" stroke-width="1.2"/>
<rect x="126" y="1301" width="40.5" height="21.5" fill="#0094ff" stroke="#000" stroke-width="1.2"/>
<text x="189" y="1293.4" font-size="32.3" font-weight="bold" fill="#231f20" stroke="#231f20" stroke-width="0.3" textLength="103.5" lengthAdjust="spacingAndGlyphs">Control</text>
<text x="189" y="1322" font-size="32.3" font-weight="bold" fill="#231f20" stroke="#231f20" stroke-width="0.3" textLength="273.5" lengthAdjust="spacingAndGlyphs">Cocaine dependent</text>
<g transform="translate(0,0)" stroke="#939598" stroke-width="5.8" fill="none" stroke-linejoin="miter"><circle cx="510.4" cy="1263.8" r="12.3" fill="#939598" stroke="none"/><path d="M510.4 1272V1311"/><path d="M489.5 1292.9L501.3 1295.3L510.4 1278L520.3 1296.7L529.8 1289.1"/><path d="M492.4 1338.4L510.4 1308.5L528.8 1338.4"/></g>
<g transform="translate(47.8,0)" stroke="#1a82f7" stroke-width="5.8" fill="none" stroke-linejoin="miter"><circle cx="510.4" cy="1263.8" r="12.3" fill="#1a82f7" stroke="none"/><path d="M510.4 1272V1311"/><path d="M489.5 1292.9L501.3 1295.3L510.4 1278L520.3 1296.7L529.8 1289.1"/><path d="M492.4 1338.4L510.4 1308.5L528.8 1338.4"/></g>
<path d="M120.1 1330V1699" stroke="#000" stroke-width="4.6" stroke-linecap="round"/>
<path d="M109 1694.5H120" stroke="#000" stroke-width="4.5" stroke-linecap="round"/>
<text transform="translate(102.8,1705.7) scale(0.92,1)" font-size="31.5" text-anchor="end">0</text>
<path d="M109 1621.7H120" stroke="#000" stroke-width="4.5" stroke-linecap="round"/>
<text transform="translate(102.8,1632.9) scale(0.92,1)" font-size="31.5" text-anchor="end">1</text>
<path d="M109 1548.9H120" stroke="#000" stroke-width="4.5" stroke-linecap="round"/>
<text transform="translate(102.8,1560.1) scale(0.92,1)" font-size="31.5" text-anchor="end">2</text>
<path d="M109 1476.1H120" stroke="#000" stroke-width="4.5" stroke-linecap="round"/>
<text transform="translate(102.8,1487.3) scale(0.92,1)" font-size="31.5" text-anchor="end">3</text>
<path d="M109 1403.3H120" stroke="#000" stroke-width="4.5" stroke-linecap="round"/>
<text transform="translate(102.8,1414.5) scale(0.92,1)" font-size="31.5" text-anchor="end">4</text>
<path d="M109 1330.5H120" stroke="#000" stroke-width="4.5" stroke-linecap="round"/>
<text transform="translate(102.8,1341.7) scale(0.92,1)" font-size="31.5" text-anchor="end">5</text>
<text transform="translate(45.9,1669.5) rotate(-90)" font-size="37.3" textLength="319" lengthAdjust="spacingAndGlyphs">Fold Change mRNA</text>
<path d="M146.2 1620.5V1612.0M138.9 1612.0H153.4" stroke="#000" stroke-width="1.3" fill="none"/>
<path d="M173.0 1606.8V1600.0M165.8 1600.0H180.2" stroke="#000" stroke-width="1.3" fill="none"/>
<rect x="132.8" y="1620.5" width="26.8" height="74.5" fill="#808080" stroke="#000" stroke-width="1.3"/>
<rect x="159.6" y="1606.8" width="26.8" height="88.2" fill="#0094ff" stroke="#000" stroke-width="1.3"/>
<path d="M159.6 1695V1705.3" stroke="#000" stroke-width="4.3" stroke-linecap="round"/>
<path d="M226.1 1620.5V1607.3M218.8 1607.3H233.3" stroke="#000" stroke-width="1.3" fill="none"/>
<path d="M252.9 1564.2V1544.0M245.7 1544.0H260.1" stroke="#000" stroke-width="1.3" fill="none"/>
<rect x="212.7" y="1620.5" width="26.8" height="74.5" fill="#808080" stroke="#000" stroke-width="1.3"/>
<rect x="239.5" y="1564.2" width="26.8" height="130.8" fill="#0094ff" stroke="#000" stroke-width="1.3"/>
<path d="M239.5 1695V1705.3" stroke="#000" stroke-width="4.3" stroke-linecap="round"/>
<path d="M306.8 1620.5V1613.0M299.6 1613.0H314.1" stroke="#000" stroke-width="1.3" fill="none"/>
<path d="M333.6 1600.6V1593.2M326.3 1593.2H340.8" stroke="#000" stroke-width="1.3" fill="none"/>
<rect x="293.4" y="1620.5" width="26.8" height="74.5" fill="#808080" stroke="#000" stroke-width="1.3"/>
<rect x="320.2" y="1600.6" width="26.8" height="94.4" fill="#0094ff" stroke="#000" stroke-width="1.3"/>
<path d="M320.2 1695V1705.3" stroke="#000" stroke-width="4.3" stroke-linecap="round"/>
<path d="M386.4 1620.5V1607.6M379.2 1607.6H393.7" stroke="#000" stroke-width="1.3" fill="none"/>
<path d="M413.2 1651.0V1645.0M405.9 1645.0H420.4" stroke="#000" stroke-width="1.3" fill="none"/>
<rect x="373.0" y="1620.5" width="26.8" height="74.5" fill="#808080" stroke="#000" stroke-width="1.3"/>
<rect x="399.8" y="1651.0" width="26.8" height="44.0" fill="#0094ff" stroke="#000" stroke-width="1.3"/>
<path d="M399.8 1695V1705.3" stroke="#000" stroke-width="4.3" stroke-linecap="round"/>
<path d="M468.7 1621.0V1612.0M461.5 1612.0H476.0" stroke="#000" stroke-width="1.3" fill="none"/>
<path d="M495.5 1619.3V1611.0M488.2 1611.0H502.8" stroke="#000" stroke-width="1.3" fill="none"/>
<rect x="455.3" y="1621.0" width="26.8" height="74.0" fill="#808080" stroke="#000" stroke-width="1.3"/>
<rect x="482.1" y="1619.3" width="26.8" height="75.7" fill="#0094ff" stroke="#000" stroke-width="1.3"/>
<path d="M482.1 1695V1705.3" stroke="#000" stroke-width="4.3" stroke-linecap="round"/>
<path d="M547.6 1623.0V1594.4M540.4 1594.4H554.9" stroke="#000" stroke-width="1.3" fill="none"/>
<path d="M574.4 1664.0V1658.0M567.1 1658.0H581.6" stroke="#000" stroke-width="1.3" fill="none"/>
<rect x="534.2" y="1623.0" width="26.8" height="72.0" fill="#808080" stroke="#000" stroke-width="1.3"/>
<rect x="561.0" y="1664.0" width="26.8" height="31.0" fill="#0094ff" stroke="#000" stroke-width="1.3"/>
<path d="M561 1695V1705.3" stroke="#000" stroke-width="4.3" stroke-linecap="round"/>
<path d="M626.9 1621.7V1614.3M619.6 1614.3H634.1" stroke="#000" stroke-width="1.3" fill="none"/>
<path d="M653.7 1611.3V1604.0M646.4 1604.0H660.9" stroke="#000" stroke-width="1.3" fill="none"/>
<rect x="613.5" y="1621.7" width="26.8" height="73.3" fill="#808080" stroke="#000" stroke-width="1.3"/>
<rect x="640.3" y="1611.3" width="26.8" height="83.7" fill="#0094ff" stroke="#000" stroke-width="1.3"/>
<path d="M640.3 1695V1705.3" stroke="#000" stroke-width="4.3" stroke-linecap="round"/>
<path d="M120.1 1695H684" stroke="#000" stroke-width="4.2"/>
<text transform="translate(163.4,1722.2) rotate(-45)" font-size="26" font-weight="bold" font-style="italic" text-anchor="end" stroke="#000" stroke-width="0.5">Nrf<tspan dx="2.5">1</tspan></text>
<text transform="translate(243.3,1722.2) rotate(-45)" font-size="26" font-weight="bold" font-style="italic" text-anchor="end" stroke="#000" stroke-width="0.5">Nrf<tspan dx="2.5">2</tspan></text>
<text transform="translate(324.0,1722.2) rotate(-45)" font-size="26" font-weight="bold" font-style="italic" text-anchor="end" stroke="#000" stroke-width="0.5">Pgc<tspan dx="5">1</tspan><tspan dx="1" font-weight="normal" font-size="22">α</tspan></text>
<text transform="translate(403.6,1722.2) rotate(-45)" font-size="26" font-weight="bold" font-style="italic" text-anchor="end" stroke="#000" stroke-width="0.5">Pol<tspan font-style="normal" font-size="23" dx="1">Y</tspan></text>
<text transform="translate(485.9,1722.2) rotate(-45)" font-size="26" font-weight="bold" font-style="italic" text-anchor="end" stroke="#000" stroke-width="0.5">Tfa<tspan dx="2">m</tspan></text>
<text transform="translate(564.8,1722.2) rotate(-45)" font-size="26" font-weight="bold" font-style="italic" text-anchor="end" stroke="#000" stroke-width="0.5">Tfb<tspan dx="3">1</tspan></text>
<text transform="translate(644.1,1722.2) rotate(-45)" font-size="26" font-weight="bold" font-style="italic" text-anchor="end" stroke="#000" stroke-width="0.5">Tomm<tspan dx="1.5">20</tspan></text>
<circle cx="146.0" cy="1552.8" r="5.5" fill="none" stroke="#231f20" stroke-width="2.4"/>
<circle cx="146.0" cy="1573.8" r="5.5" fill="none" stroke="#231f20" stroke-width="2.4"/>
<circle cx="141.0" cy="1601.9" r="5.5" fill="none" stroke="#231f20" stroke-width="2.4"/>
<circle cx="151.0" cy="1608.1" r="5.5" fill="none" stroke="#231f20" stroke-width="2.4"/>
<circle cx="146.0" cy="1614.3" r="5.5" fill="none" stroke="#231f20" stroke-width="2.4"/>
<circle cx="139.3" cy="1619.3" r="5.5" fill="none" stroke="#231f20" stroke-width="2.4"/>
<circle cx="152.2" cy="1616.8" r="5.5" fill="none" stroke="#231f20" stroke-width="2.4"/>
<circle cx="144.7" cy="1623.0" r="5.5" fill="none" stroke="#231f20" stroke-width="2.4"/>
<circle cx="147.2" cy="1631.7" r="5.5" fill="none" stroke="#231f20" stroke-width="2.4"/>
<circle cx="141.0" cy="1640.3" r="5.5" fill="none" stroke="#231f20" stroke-width="2.4"/>
<circle cx="149.7" cy="1641.6" r="5.5" fill="none" stroke="#231f20" stroke-width="2.4"/>
<circle cx="144.7" cy="1647.8" r="5.5" fill="none" stroke="#231f20" stroke-width="2.4"/>
<circle cx="146.7" cy="1655.2" r="5.5" fill="none" stroke="#231f20" stroke-width="2.4"/>
<circle cx="231.6" cy="1552.8" r="5.5" fill="none" stroke="#231f20" stroke-width="2.4"/>
<circle cx="220.4" cy="1560.2" r="5.5" fill="none" stroke="#231f20" stroke-width="2.4"/>
<circle cx="226.6" cy="1561.7" r="5.5" fill="none" stroke="#231f20" stroke-width="2.4"/>
<circle cx="232.8" cy="1586.3" r="5.5" fill="none" stroke="#231f20" stroke-width="2.4"/>
<circle cx="219.7" cy="1600.6" r="5.5" fill="none" stroke="#231f20" stroke-width="2.4"/>
<circle cx="226.1" cy="1627.9" r="5.5" fill="none" stroke="#231f20" stroke-width="2.4"/>
<circle cx="220.4" cy="1632.9" r="5.5" fill="none" stroke="#231f20" stroke-width="2.4"/>
<circle cx="225.4" cy="1649.5" r="5.5" fill="none" stroke="#231f20" stroke-width="2.4"/>
<circle cx="231.6" cy="1649.5" r="5.5" fill="none" stroke="#231f20" stroke-width="2.4"/>
<circle cx="219.7" cy="1670.1" r="5.5" fill="none" stroke="#231f20" stroke-width="2.4"/>
<circle cx="232.8" cy="1670.9" r="5.5" fill="none" stroke="#231f20" stroke-width="2.4"/>
<circle cx="226.1" cy="1692.5" r="5.5" fill="none" stroke="#231f20" stroke-width="2.4"/>
<circle cx="306.5" cy="1563.9" r="5.5" fill="none" stroke="#231f20" stroke-width="2.4"/>
<circle cx="306.5" cy="1585.0" r="5.5" fill="none" stroke="#231f20" stroke-width="2.4"/>
<circle cx="314.7" cy="1605.6" r="5.5" fill="none" stroke="#231f20" stroke-width="2.4"/>
<circle cx="298.1" cy="1610.6" r="5.5" fill="none" stroke="#231f20" stroke-width="2.4"/>
<circle cx="309.7" cy="1611.8" r="5.5" fill="none" stroke="#231f20" stroke-width="2.4"/>
<circle cx="303.5" cy="1615.5" r="5.5" fill="none" stroke="#231f20" stroke-width="2.4"/>
<circle cx="297.3" cy="1620.5" r="5.5" fill="none" stroke="#231f20" stroke-width="2.4"/>
<circle cx="301.0" cy="1619.3" r="5.5" fill="none" stroke="#231f20" stroke-width="2.4"/>
<circle cx="313.5" cy="1624.2" r="5.5" fill="none" stroke="#231f20" stroke-width="2.4"/>
<circle cx="299.8" cy="1631.7" r="5.5" fill="none" stroke="#231f20" stroke-width="2.4"/>
<circle cx="308.5" cy="1632.9" r="5.5" fill="none" stroke="#231f20" stroke-width="2.4"/>
<circle cx="304.8" cy="1635.4" r="5.5" fill="none" stroke="#231f20" stroke-width="2.4"/>
<circle cx="301.0" cy="1647.8" r="5.5" fill="none" stroke="#231f20" stroke-width="2.4"/>
<circle cx="311.0" cy="1651.5" r="5.5" fill="none" stroke="#231f20" stroke-width="2.4"/>
<circle cx="306.0" cy="1660.9" r="5.5" fill="none" stroke="#231f20" stroke-width="2.4"/>
<circle cx="386.0" cy="1491.0" r="5.5" fill="none" stroke="#231f20" stroke-width="2.4"/>
<circle cx="385.9" cy="1553.0" r="5.5" fill="none" stroke="#231f20" stroke-width="2.4"/>
<circle cx="385.9" cy="1587.0" r="5.5" fill="none" stroke="#231f20" stroke-width="2.4"/>
<circle cx="385.9" cy="1618.0" r="5.5" fill="none" stroke="#231f20" stroke-width="2.4"/>
<circle cx="376.7" cy="1634.1" r="5.5" fill="none" stroke="#231f20" stroke-width="2.4"/>
<circle cx="392.9" cy="1636.6" r="5.5" fill="none" stroke="#231f20" stroke-width="2.4"/>
<circle cx="381.7" cy="1641.6" r="5.5" fill="none" stroke="#231f20" stroke-width="2.4"/>
<circle cx="387.9" cy="1644.1" r="5.5" fill="none" stroke="#231f20" stroke-width="2.4"/>
<circle cx="380.5" cy="1646.6" r="5.5" fill="none" stroke="#231f20" stroke-width="2.4"/>
<circle cx="391.6" cy="1654.0" r="5.5" fill="none" stroke="#231f20" stroke-width="2.4"/>
<circle cx="384.2" cy="1655.2" r="5.5" fill="none" stroke="#231f20" stroke-width="2.4"/>
<circle cx="387.9" cy="1657.7" r="5.5" fill="none" stroke="#231f20" stroke-width="2.4"/>
<circle cx="385.4" cy="1659.0" r="5.5" fill="none" stroke="#231f20" stroke-width="2.4"/>
<circle cx="469.0" cy="1565.4" r="5.5" fill="none" stroke="#231f20" stroke-width="2.4"/>
<circle cx="469.0" cy="1587.0" r="5.5" fill="none" stroke="#231f20" stroke-width="2.4"/>
<circle cx="463.5" cy="1604.4" r="5.5" fill="none" stroke="#231f20" stroke-width="2.4"/>
<circle cx="474.2" cy="1604.4" r="5.5" fill="none" stroke="#231f20" stroke-width="2.4"/>
<circle cx="466.0" cy="1610.6" r="5.5" fill="none" stroke="#231f20" stroke-width="2.4"/>
<circle cx="471.7" cy="1611.8" r="5.5" fill="none" stroke="#231f20" stroke-width="2.4"/>
<circle cx="467.3" cy="1616.8" r="5.5" fill="none" stroke="#231f20" stroke-width="2.4"/>
<circle cx="471.0" cy="1618.0" r="5.5" fill="none" stroke="#231f20" stroke-width="2.4"/>
<circle cx="469.0" cy="1621.7" r="5.5" fill="none" stroke="#231f20" stroke-width="2.4"/>
<circle cx="469.0" cy="1638.6" r="5.5" fill="none" stroke="#231f20" stroke-width="2.4"/>
<circle cx="459.8" cy="1659.0" r="5.5" fill="none" stroke="#231f20" stroke-width="2.4"/>
<circle cx="477.2" cy="1657.0" r="5.5" fill="none" stroke="#231f20" stroke-width="2.4"/>
<circle cx="466.0" cy="1666.4" r="5.5" fill="none" stroke="#231f20" stroke-width="2.4"/>
<circle cx="473.5" cy="1663.4" r="5.5" fill="none" stroke="#231f20" stroke-width="2.4"/>
<circle cx="546.9" cy="1347.0" r="5.5" fill="none" stroke="#231f20" stroke-width="2.4"/>
<circle cx="547.0" cy="1443.0" r="5.5" fill="none" stroke="#231f20" stroke-width="2.4"/>
<circle cx="546.7" cy="1523.0" r="5.5" fill="none" stroke="#231f20" stroke-width="2.4"/>
<circle cx="546.7" cy="1650.3" r="5.5" fill="none" stroke="#231f20" stroke-width="2.4"/>
<circle cx="540.5" cy="1660.2" r="5.5" fill="none" stroke="#231f20" stroke-width="2.4"/>
<circle cx="552.9" cy="1666.4" r="5.5" fill="none" stroke="#231f20" stroke-width="2.4"/>
<circle cx="538.0" cy="1676.3" r="5.5" fill="none" stroke="#231f20" stroke-width="2.4"/>
<circle cx="544.2" cy="1676.3" r="5.5" fill="none" stroke="#231f20" stroke-width="2.4"/>
<circle cx="550.4" cy="1675.1" r="5.5" fill="none" stroke="#231f20" stroke-width="2.4"/>
<circle cx="556.6" cy="1675.1" r="5.5" fill="none" stroke="#231f20" stroke-width="2.4"/>
<circle cx="540.5" cy="1681.3" r="5.5" fill="none" stroke="#231f20" stroke-width="2.4"/>
<circle cx="547.9" cy="1682.5" r="5.5" fill="none" stroke="#231f20" stroke-width="2.4"/>
<circle cx="554.1" cy="1680.0" r="5.5" fill="none" stroke="#231f20" stroke-width="2.4"/>
<circle cx="542.9" cy="1685.8" r="5.5" fill="none" stroke="#231f20" stroke-width="2.4"/>
<circle cx="550.4" cy="1686.3" r="5.5" fill="none" stroke="#231f20" stroke-width="2.4"/>
<circle cx="619.2" cy="1579.0" r="5.5" fill="none" stroke="#231f20" stroke-width="2.4"/>
<circle cx="635.3" cy="1586.5" r="5.5" fill="none" stroke="#231f20" stroke-width="2.4"/>
<circle cx="624.2" cy="1590.2" r="5.5" fill="none" stroke="#231f20" stroke-width="2.4"/>
<circle cx="630.4" cy="1594.4" r="5.5" fill="none" stroke="#231f20" stroke-width="2.4"/>
<circle cx="635.8" cy="1606.8" r="5.5" fill="none" stroke="#231f20" stroke-width="2.4"/>
<circle cx="619.2" cy="1609.8" r="5.5" fill="none" stroke="#231f20" stroke-width="2.4"/>
<circle cx="624.2" cy="1621.7" r="5.5" fill="none" stroke="#231f20" stroke-width="2.4"/>
<circle cx="630.4" cy="1620.5" r="5.5" fill="none" stroke="#231f20" stroke-width="2.4"/>
<circle cx="635.3" cy="1629.2" r="5.5" fill="none" stroke="#231f20" stroke-width="2.4"/>
<circle cx="618.0" cy="1630.4" r="5.5" fill="none" stroke="#231f20" stroke-width="2.4"/>
<circle cx="624.2" cy="1634.1" r="5.5" fill="none" stroke="#231f20" stroke-width="2.4"/>
<circle cx="631.6" cy="1646.6" r="5.5" fill="none" stroke="#231f20" stroke-width="2.4"/>
<circle cx="621.7" cy="1653.5" r="5.5" fill="none" stroke="#231f20" stroke-width="2.4"/>
<circle cx="632.4" cy="1654.0" r="5.5" fill="none" stroke="#231f20" stroke-width="2.4"/>
<circle cx="627.4" cy="1668.1" r="5.5" fill="none" stroke="#231f20" stroke-width="2.4"/>
<circle cx="468.0" cy="1612.5" r="5.5" fill="none" stroke="#231f20" stroke-width="2.4"/>
<circle cx="470.0" cy="1614.0" r="5.5" fill="none" stroke="#231f20" stroke-width="2.4"/>
<circle cx="469.5" cy="1610.5" r="5.5" fill="none" stroke="#231f20" stroke-width="2.4"/>
<circle cx="467.5" cy="1615.0" r="5.5" fill="none" stroke="#231f20" stroke-width="2.4"/>
<circle cx="469.0" cy="1616.0" r="5.5" fill="none" stroke="#231f20" stroke-width="2.4"/>
<rect x="161.2" y="1539.3" width="10.9" height="10.9" fill="none" stroke="#231f20" stroke-width="2.4"/>
<rect x="174.1" y="1545.0" width="10.9" height="10.9" fill="none" stroke="#231f20" stroke-width="2.4"/>
<rect x="167.4" y="1580.3" width="10.9" height="10.9" fill="none" stroke="#231f20" stroke-width="2.4"/>
<rect x="162.9" y="1599.0" width="10.9" height="10.9" fill="none" stroke="#231f20" stroke-width="2.4"/>
<rect x="171.6" y="1601.3" width="10.9" height="10.9" fill="none" stroke="#231f20" stroke-width="2.4"/>
<rect x="157.9" y="1607.5" width="10.9" height="10.9" fill="none" stroke="#231f20" stroke-width="2.4"/>
<rect x="166.6" y="1608.8" width="10.9" height="10.9" fill="none" stroke="#231f20" stroke-width="2.4"/>
<rect x="175.2" y="1610.0" width="10.9" height="10.9" fill="none" stroke="#231f20" stroke-width="2.4"/>
<rect x="161.6" y="1613.8" width="10.9" height="10.9" fill="none" stroke="#231f20" stroke-width="2.4"/>
<rect x="170.4" y="1615.0" width="10.9" height="10.9" fill="none" stroke="#231f20" stroke-width="2.4"/>
<rect x="176.6" y="1616.2" width="10.9" height="10.9" fill="none" stroke="#231f20" stroke-width="2.4"/>
<rect x="160.4" y="1623.8" width="10.9" height="10.9" fill="none" stroke="#231f20" stroke-width="2.4"/>
<rect x="171.6" y="1626.2" width="10.9" height="10.9" fill="none" stroke="#231f20" stroke-width="2.4"/>
<rect x="164.2" y="1630.6" width="10.9" height="10.9" fill="none" stroke="#231f20" stroke-width="2.4"/>
<rect x="247.4" y="1394.8" width="10.9" height="10.9" fill="none" stroke="#231f20" stroke-width="2.4"/>
<rect x="247.4" y="1487.1" width="10.9" height="10.9" fill="none" stroke="#231f20" stroke-width="2.4"/>
<rect x="254.1" y="1503.2" width="10.9" height="10.9" fill="none" stroke="#231f20" stroke-width="2.4"/>
<rect x="241.0" y="1513.2" width="10.9" height="10.9" fill="none" stroke="#231f20" stroke-width="2.4"/>
<rect x="241.1" y="1541.3" width="10.9" height="10.9" fill="none" stroke="#231f20" stroke-width="2.4"/>
<rect x="254.2" y="1546.8" width="10.9" height="10.9" fill="none" stroke="#231f20" stroke-width="2.4"/>
<rect x="242.2" y="1586.0" width="10.9" height="10.9" fill="none" stroke="#231f20" stroke-width="2.4"/>
<rect x="253.4" y="1587.2" width="10.9" height="10.9" fill="none" stroke="#231f20" stroke-width="2.4"/>
<rect x="248.5" y="1595.1" width="10.9" height="10.9" fill="none" stroke="#231f20" stroke-width="2.4"/>
<rect x="252.9" y="1606.8" width="10.9" height="10.9" fill="none" stroke="#231f20" stroke-width="2.4"/>
<rect x="242.2" y="1611.3" width="10.9" height="10.9" fill="none" stroke="#231f20" stroke-width="2.4"/>
<rect x="247.2" y="1620.0" width="10.9" height="10.9" fill="none" stroke="#231f20" stroke-width="2.4"/>
<rect x="247.2" y="1668.8" width="10.9" height="10.9" fill="none" stroke="#231f20" stroke-width="2.4"/>
<rect x="327.9" y="1518.8" width="10.9" height="10.9" fill="none" stroke="#231f20" stroke-width="2.4"/>
<rect x="321.2" y="1559.8" width="10.9" height="10.9" fill="none" stroke="#231f20" stroke-width="2.4"/>
<rect x="334.1" y="1563.5" width="10.9" height="10.9" fill="none" stroke="#231f20" stroke-width="2.4"/>
<rect x="327.9" y="1580.3" width="10.9" height="10.9" fill="none" stroke="#231f20" stroke-width="2.4"/>
<rect x="319.2" y="1589.0" width="10.9" height="10.9" fill="none" stroke="#231f20" stroke-width="2.4"/>
<rect x="336.1" y="1594.0" width="10.9" height="10.9" fill="none" stroke="#231f20" stroke-width="2.4"/>
<rect x="322.9" y="1610.0" width="10.9" height="10.9" fill="none" stroke="#231f20" stroke-width="2.4"/>
<rect x="332.9" y="1610.0" width="10.9" height="10.9" fill="none" stroke="#231f20" stroke-width="2.4"/>
<rect x="327.9" y="1613.8" width="10.9" height="10.9" fill="none" stroke="#231f20" stroke-width="2.4"/>
<rect x="322.9" y="1616.2" width="10.9" height="10.9" fill="none" stroke="#231f20" stroke-width="2.4"/>
<rect x="332.9" y="1616.2" width="10.9" height="10.9" fill="none" stroke="#231f20" stroke-width="2.4"/>
<rect x="327.9" y="1620.0" width="10.9" height="10.9" fill="none" stroke="#231f20" stroke-width="2.4"/>
<rect x="325.4" y="1623.8" width="10.9" height="10.9" fill="none" stroke="#231f20" stroke-width="2.4"/>
<rect x="330.4" y="1623.8" width="10.9" height="10.9" fill="none" stroke="#231f20" stroke-width="2.4"/>
<rect x="327.9" y="1627.5" width="10.9" height="10.9" fill="none" stroke="#231f20" stroke-width="2.4"/>
<rect x="407.2" y="1602.6" width="10.9" height="10.9" fill="none" stroke="#231f20" stroke-width="2.4"/>
<rect x="415.4" y="1621.8" width="10.9" height="10.9" fill="none" stroke="#231f20" stroke-width="2.4"/>
<rect x="399.1" y="1632.5" width="10.9" height="10.9" fill="none" stroke="#231f20" stroke-width="2.4"/>
<rect x="404.8" y="1636.1" width="10.9" height="10.9" fill="none" stroke="#231f20" stroke-width="2.4"/>
<rect x="412.9" y="1636.1" width="10.9" height="10.9" fill="none" stroke="#231f20" stroke-width="2.4"/>
<rect x="401.1" y="1641.1" width="10.9" height="10.9" fill="none" stroke="#231f20" stroke-width="2.4"/>
<rect x="408.6" y="1641.5" width="10.9" height="10.9" fill="none" stroke="#231f20" stroke-width="2.4"/>
<rect x="414.8" y="1642.3" width="10.9" height="10.9" fill="none" stroke="#231f20" stroke-width="2.4"/>
<rect x="403.6" y="1646.0" width="10.9" height="10.9" fill="none" stroke="#231f20" stroke-width="2.4"/>
<rect x="410.9" y="1646.5" width="10.9" height="10.9" fill="none" stroke="#231f20" stroke-width="2.4"/>
<rect x="407.2" y="1651.0" width="10.9" height="10.9" fill="none" stroke="#231f20" stroke-width="2.4"/>
<rect x="407.2" y="1658.5" width="10.9" height="10.9" fill="none" stroke="#231f20" stroke-width="2.4"/>
<rect x="403.6" y="1670.8" width="10.9" height="10.9" fill="none" stroke="#231f20" stroke-width="2.4"/>
<rect x="412.2" y="1673.3" width="10.9" height="10.9" fill="none" stroke="#231f20" stroke-width="2.4"/>
<rect x="407.8" y="1678.3" width="10.9" height="10.9" fill="none" stroke="#231f20" stroke-width="2.4"/>
<rect x="484.2" y="1566.6" width="10.9" height="10.9" fill="none" stroke="#231f20" stroke-width="2.4"/>
<rect x="496.6" y="1569.1" width="10.9" height="10.9" fill="none" stroke="#231f20" stroke-width="2.4"/>
<rect x="490.4" y="1600.1" width="10.9" height="10.9" fill="none" stroke="#231f20" stroke-width="2.4"/>
<rect x="481.7" y="1607.5" width="10.9" height="10.9" fill="none" stroke="#231f20" stroke-width="2.4"/>
<rect x="499.1" y="1608.3" width="10.9" height="10.9" fill="none" stroke="#231f20" stroke-width="2.4"/>
<rect x="490.4" y="1610.0" width="10.9" height="10.9" fill="none" stroke="#231f20" stroke-width="2.4"/>
<rect x="485.4" y="1613.8" width="10.9" height="10.9" fill="none" stroke="#231f20" stroke-width="2.4"/>
<rect x="495.4" y="1615.0" width="10.9" height="10.9" fill="none" stroke="#231f20" stroke-width="2.4"/>
<rect x="499.1" y="1621.2" width="10.9" height="10.9" fill="none" stroke="#231f20" stroke-width="2.4"/>
<rect x="482.9" y="1625.0" width="10.9" height="10.9" fill="none" stroke="#231f20" stroke-width="2.4"/>
<rect x="491.6" y="1626.2" width="10.9" height="10.9" fill="none" stroke="#231f20" stroke-width="2.4"/>
<rect x="497.8" y="1630.0" width="10.9" height="10.9" fill="none" stroke="#231f20" stroke-width="2.4"/>
<rect x="481.7" y="1631.1" width="10.9" height="10.9" fill="none" stroke="#231f20" stroke-width="2.4"/>
<rect x="489.2" y="1633.6" width="10.9" height="10.9" fill="none" stroke="#231f20" stroke-width="2.4"/>
<rect x="487.9" y="1639.8" width="10.9" height="10.9" fill="none" stroke="#231f20" stroke-width="2.4"/>
<rect x="562.3" y="1626.8" width="10.9" height="10.9" fill="none" stroke="#231f20" stroke-width="2.4"/>
<rect x="573.4" y="1630.6" width="10.9" height="10.9" fill="none" stroke="#231f20" stroke-width="2.4"/>
<rect x="567.2" y="1643.5" width="10.9" height="10.9" fill="none" stroke="#231f20" stroke-width="2.4"/>
<rect x="572.9" y="1651.0" width="10.9" height="10.9" fill="none" stroke="#231f20" stroke-width="2.4"/>
<rect x="561.0" y="1657.2" width="10.9" height="10.9" fill="none" stroke="#231f20" stroke-width="2.4"/>
<rect x="567.2" y="1658.5" width="10.9" height="10.9" fill="none" stroke="#231f20" stroke-width="2.4"/>
<rect x="572.5" y="1658.5" width="10.9" height="10.9" fill="none" stroke="#231f20" stroke-width="2.4"/>
<rect x="563.5" y="1662.5" width="10.9" height="10.9" fill="none" stroke="#231f20" stroke-width="2.4"/>
<rect x="570.5" y="1662.5" width="10.9" height="10.9" fill="none" stroke="#231f20" stroke-width="2.4"/>
<rect x="567.2" y="1665.5" width="10.9" height="10.9" fill="none" stroke="#231f20" stroke-width="2.4"/>
<rect x="563.5" y="1675.8" width="10.9" height="10.9" fill="none" stroke="#231f20" stroke-width="2.4"/>
<rect x="572.2" y="1677.0" width="10.9" height="10.9" fill="none" stroke="#231f20" stroke-width="2.4"/>
<rect x="568.5" y="1680.8" width="10.9" height="10.9" fill="none" stroke="#231f20" stroke-width="2.4"/>
<rect x="575.9" y="1673.3" width="10.9" height="10.9" fill="none" stroke="#231f20" stroke-width="2.4"/>
<rect x="648.5" y="1571.6" width="10.9" height="10.9" fill="none" stroke="#231f20" stroke-width="2.4"/>
<rect x="656.4" y="1589.5" width="10.9" height="10.9" fill="none" stroke="#231f20" stroke-width="2.4"/>
<rect x="639.8" y="1593.5" width="10.9" height="10.9" fill="none" stroke="#231f20" stroke-width="2.4"/>
<rect x="646.0" y="1599.0" width="10.9" height="10.9" fill="none" stroke="#231f20" stroke-width="2.4"/>
<rect x="653.4" y="1597.6" width="10.9" height="10.9" fill="none" stroke="#231f20" stroke-width="2.4"/>
<rect x="641.0" y="1605.1" width="10.9" height="10.9" fill="none" stroke="#231f20" stroke-width="2.4"/>
<rect x="649.8" y="1603.8" width="10.9" height="10.9" fill="none" stroke="#231f20" stroke-width="2.4"/>
<rect x="657.1" y="1608.8" width="10.9" height="10.9" fill="none" stroke="#231f20" stroke-width="2.4"/>
<rect x="643.5" y="1611.3" width="10.9" height="10.9" fill="none" stroke="#231f20" stroke-width="2.4"/>
<rect x="652.2" y="1612.5" width="10.9" height="10.9" fill="none" stroke="#231f20" stroke-width="2.4"/>
<rect x="647.2" y="1617.5" width="10.9" height="10.9" fill="none" stroke="#231f20" stroke-width="2.4"/>
<rect x="654.8" y="1617.5" width="10.9" height="10.9" fill="none" stroke="#231f20" stroke-width="2.4"/>
<rect x="644.8" y="1621.2" width="10.9" height="10.9" fill="none" stroke="#231f20" stroke-width="2.4"/>
<rect x="653.4" y="1627.5" width="10.9" height="10.9" fill="none" stroke="#231f20" stroke-width="2.4"/>
<rect x="641.8" y="1640.3" width="10.9" height="10.9" fill="none" stroke="#231f20" stroke-width="2.4"/>
<rect x="565.0" y="1660.5" width="10.9" height="10.9" fill="none" stroke="#231f20" stroke-width="2.4"/>
<rect x="568.0" y="1661.0" width="10.9" height="10.9" fill="none" stroke="#231f20" stroke-width="2.4"/>
<rect x="566.0" y="1663.5" width="10.9" height="10.9" fill="none" stroke="#231f20" stroke-width="2.4"/>
<rect x="569.0" y="1663.0" width="10.9" height="10.9" fill="none" stroke="#231f20" stroke-width="2.4"/>
<rect x="567.0" y="1659.5" width="10.9" height="10.9" fill="none" stroke="#231f20" stroke-width="2.4"/>
<rect x="565.5" y="1662.0" width="10.9" height="10.9" fill="none" stroke="#231f20" stroke-width="2.4"/>
<rect x="568.5" y="1664.5" width="10.9" height="10.9" fill="none" stroke="#231f20" stroke-width="2.4"/>
<rect x="167.1" y="1609.5" width="10.9" height="10.9" fill="none" stroke="#231f20" stroke-width="2.4"/>
<rect x="168.6" y="1608.0" width="10.9" height="10.9" fill="none" stroke="#231f20" stroke-width="2.4"/>
<rect x="165.6" y="1611.0" width="10.9" height="10.9" fill="none" stroke="#231f20" stroke-width="2.4"/>
<rect x="168.1" y="1612.0" width="10.9" height="10.9" fill="none" stroke="#231f20" stroke-width="2.4"/>
<rect x="327.6" y="1614.5" width="10.9" height="10.9" fill="none" stroke="#231f20" stroke-width="2.4"/>
<rect x="329.1" y="1612.5" width="10.9" height="10.9" fill="none" stroke="#231f20" stroke-width="2.4"/>
<rect x="326.1" y="1616.5" width="10.9" height="10.9" fill="none" stroke="#231f20" stroke-width="2.4"/>
<rect x="327.6" y="1618.0" width="10.9" height="10.9" fill="none" stroke="#231f20" stroke-width="2.4"/>
<rect x="329.6" y="1615.5" width="10.9" height="10.9" fill="none" stroke="#231f20" stroke-width="2.4"/>
<rect x="407.1" y="1640.5" width="10.9" height="10.9" fill="none" stroke="#231f20" stroke-width="2.4"/>
<rect x="409.1" y="1643.5" width="10.9" height="10.9" fill="none" stroke="#231f20" stroke-width="2.4"/>
<rect x="405.6" y="1643.0" width="10.9" height="10.9" fill="none" stroke="#231f20" stroke-width="2.4"/>
<rect x="408.1" y="1639.0" width="10.9" height="10.9" fill="none" stroke="#231f20" stroke-width="2.4"/>
<text x="240.4" y="1379.4" font-size="52" font-weight="bold" text-anchor="middle" fill="#ed1c24" stroke="#ed1c24" stroke-width="0.4">*</text>
<text x="320.8" y="1505.2" font-size="52" font-weight="bold" text-anchor="middle" fill="#ed1c24" stroke="#ed1c24" stroke-width="0.4">*</text>
</g>
</svg>
</body></html>
